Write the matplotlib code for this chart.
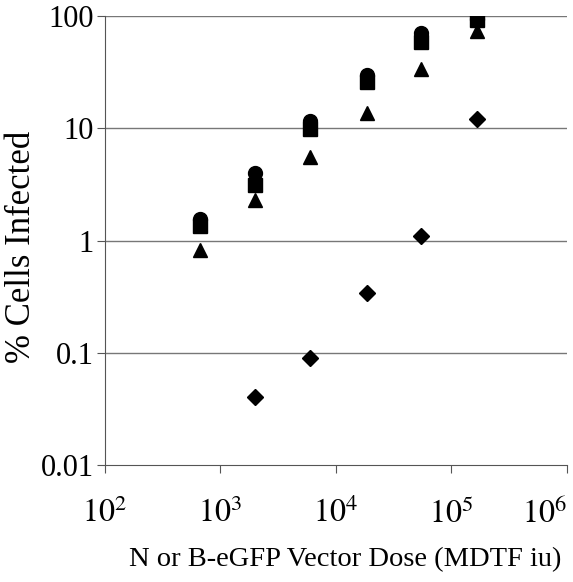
import numpy as np
import matplotlib.pyplot as plt

plt.rcParams['font.family'] = ['Liberation Serif', 'DejaVu Serif']
plt.rcParams['mathtext.fontset'] = 'stix'

# vector dose (MDTF iu), 3-fold dilutions
dose = [670, 2000, 6000, 18500, 55000, 165000]

circles = [1.57, 4.0, 11.5, 30, 70, 95]
squares = [1.36, 3.1, 9.8, 26, 59, 93]
triangles = [0.82, 2.3, 5.5, 13.7, 34, 74]
diamond_dose = [2000, 6000, 18500, 55000, 165000]
diamonds = [0.040, 0.090, 0.34, 1.1, 12]

xticks = [1e2, 1e3, 1e4, 1e5, 1e6]
xticklabels = ['$10^{2}$', '$10^{3}$', '$10^{4}$', '$10^{5}$', '$10^{6}$']
yticks = [0.01, 0.1, 1, 10, 100]
yticklabels = ['0.01', '0.1', '1', '10', '100']

fig = plt.figure(figsize=(5.73, 5.82), dpi=100)
ax = fig.add_axes([0.1832, 0.201, 0.8063, 0.7715])

ax.plot(diamond_dose, diamonds, 'D', color='black', markersize=8, linestyle='none', zorder=3)
ax.plot(dose, triangles, '^', color='black', markersize=10, linestyle='none', zorder=3)
ax.plot(dose, circles, 'o', color='black', markersize=10, linestyle='none', zorder=4)
ax.plot(dose, squares, 's', color='black', markersize=9.5, linestyle='none', zorder=5)

ax.set_xscale('log')
ax.set_yscale('log')
ax.set_xlim(1e2, 1e6)
ax.set_ylim(0.01, 100)
ax.set_xticks(xticks)
ax.set_xticklabels(xticklabels)
ax.set_yticks(yticks)
ax.set_yticklabels(yticklabels)
ax.minorticks_off()
# last label pulled inside the figure
ax.get_xticklabels()[-1].set_horizontalalignment('right')

for y in yticks[1:]:
    ax.axhline(y, color='#777777', linewidth=1.0, zorder=1)

ax.spines['top'].set_visible(False)
ax.spines['right'].set_visible(False)
ax.spines['left'].set_color('#555555')
ax.spines['bottom'].set_color('#555555')
ax.tick_params(axis='x', direction='out', length=6, width=0.8, pad=18, labelsize=23, colors='#555555', labelcolor='black')
ax.tick_params(axis='y', direction='out', length=6, width=0.8, pad=2, labelsize=22, colors='#555555', labelcolor='black')

ax.set_xlabel('N or B-eGFP Vector Dose (MDTF iu)', fontsize=20.5)
ax.xaxis.set_label_coords(0.52, -0.183)
ax.set_ylabel('% Cells Infected', fontsize=25)
ax.yaxis.set_label_coords(-0.145, 0.4855)

fig.savefig('out.png', dpi=100)
